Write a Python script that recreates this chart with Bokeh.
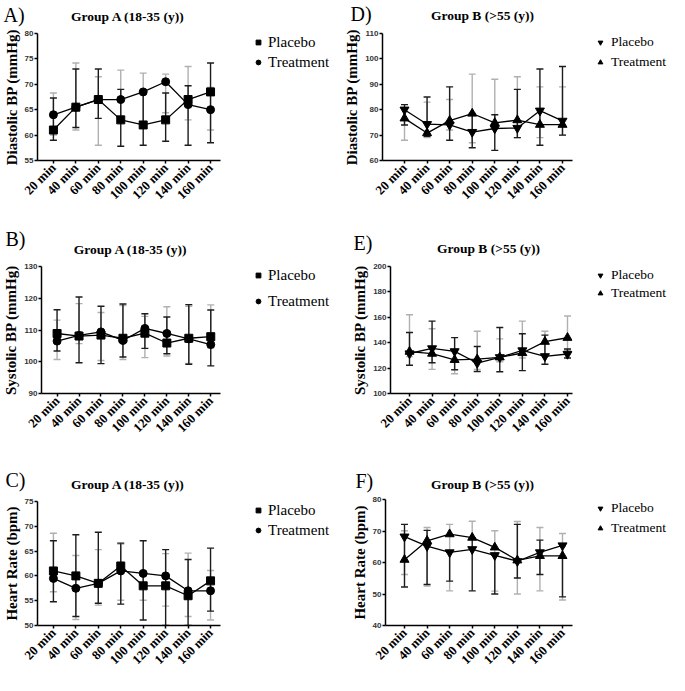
import math
from bokeh.plotting import figure
from bokeh.models import (ColumnDataSource, Range1d, FixedTicker, Label, Legend,
                          LegendItem, Whisker, TeeHead)
from bokeh.layouts import column, row
from bokeh.embed import file_html
from bokeh.resources import INLINE

# ---------------- data ----------------
times = ["20 min", "40 min", "60 min", "80 min", "100 min", "120 min", "140 min", "160 min"]
series_names = ["Placebo", "Treatment"]

# A) Diastolic BP, Group A (18-35 y)
a_placebo = [61.0, 65.5, 67.0, 63.0, 62.0, 63.0, 67.0, 68.5]
a_treatment = [64.0, 65.5, 67.0, 67.0, 68.5, 70.5, 66.0, 65.0]
a_placebo_lo = [59.0, 61.5, 63.3, 57.8, 58.0, 58.8, 58.0, 58.5]
a_placebo_hi = [67.3, 73.0, 73.0, 69.0, 68.5, 68.3, 69.7, 74.2]
a_treatment_lo = [60.0, 61.0, 58.0, 63.0, 62.0, 64.4, 63.0, 61.0]
a_treatment_hi = [68.3, 74.2, 71.5, 72.8, 72.2, 72.0, 73.5, 69.4]

# B) Systolic BP, Group A (18-35 y)
b_placebo = [108.9, 108.1, 108.4, 107.4, 109.0, 105.9, 107.4, 107.9]
b_treatment = [106.5, 108.3, 109.4, 106.7, 110.5, 108.9, 107.2, 105.4]
b_placebo_lo = [103.4, 99.7, 99.4, 101.5, 104.2, 102.5, 99.2, 98.7]
b_placebo_hi = [116.4, 120.4, 117.5, 118.2, 115.1, 114.1, 118.0, 116.3]
b_treatment_lo = [100.7, 105.7, 100.4, 100.7, 101.3, 101.8, 99.5, 104.4]
b_treatment_hi = [113.1, 118.3, 115.5, 117.7, 114.3, 117.3, 117.5, 117.9]

# C) Heart rate, Group A (18-35 y)
c_placebo = [61.0, 60.0, 58.5, 62.0, 58.0, 58.0, 56.0, 59.0]
c_treatment = [59.5, 57.5, 58.5, 61.0, 60.5, 60.0, 57.0, 57.0]
c_placebo_lo = [54.8, 51.8, 54.5, 54.3, 51.1, 50.0, 50.0, 52.9]
c_placebo_hi = [67.1, 68.3, 68.8, 66.6, 67.1, 65.3, 63.3, 65.6]
c_treatment_lo = [56.8, 51.2, 54.1, 55.1, 55.1, 53.9, 51.8, 51.1]
c_treatment_hi = [68.6, 64.1, 65.3, 66.4, 60.5, 64.5, 64.6, 61.1]

# D) Diastolic BP, Group B (>55 y)
d_placebo = [80.0, 74.3, 74.0, 71.2, 72.6, 72.8, 79.6, 75.6]
d_treatment = [76.6, 70.8, 75.7, 78.5, 74.8, 75.9, 74.1, 74.1]
d_placebo_lo = [74.0, 69.5, 68.0, 65.0, 64.0, 69.0, 66.0, 70.0]
d_placebo_hi = [82.0, 85.0, 89.0, 78.5, 78.0, 88.0, 96.0, 97.0]
d_treatment_lo = [68.0, 69.0, 72.0, 67.0, 72.6, 69.0, 69.0, 70.0]
d_treatment_hi = [80.8, 83.0, 84.0, 94.0, 92.0, 93.0, 89.0, 89.0]

# E) Systolic BP, Group B (>55 y)
e_placebo = [131.5, 135.5, 133.2, 124.0, 128.5, 133.9, 129.3, 131.1]
e_treatment = [133.0, 131.4, 126.5, 127.0, 128.5, 131.9, 140.8, 143.9]
e_placebo_lo = [122.2, 124.2, 118.7, 117.3, 117.1, 118.0, 123.0, 128.0]
e_placebo_hi = [148.0, 157.0, 144.0, 137.0, 152.0, 147.0, 146.0, 135.0]
e_treatment_lo = [129.0, 119.0, 115.6, 119.0, 125.0, 128.0, 130.0, 134.0]
e_treatment_hi = [162.0, 151.0, 133.2, 149.0, 143.0, 157.0, 149.0, 161.0]

# F) Heart rate, Group B (>55 y)
f_placebo = [68.2, 65.2, 63.2, 64.2, 62.3, 60.4, 63.2, 65.4]
f_treatment = [60.9, 66.9, 69.0, 67.9, 64.8, 60.7, 62.1, 62.1]
f_placebo_lo = [52.2, 53.0, 54.1, 51.0, 50.0, 55.1, 56.2, 49.1]
f_placebo_hi = [72.1, 70.2, 63.2, 67.9, 62.3, 72.1, 67.1, 65.4]
f_treatment_lo = [56.2, 52.5, 51.0, 67.9, 50.9, 50.0, 51.0, 48.1]
f_treatment_hi = [70.1, 71.1, 72.1, 73.1, 70.1, 73.0, 71.1, 69.2]

# ---------------- styling / layout ----------------
SERIF = "Liberation Serif"
SANS = "Liberation Sans"
DARK = "#1c1c1c"
LIGHT = "#b0b0b0"
SP = 22.57  # px per time point


def blank_fig(w, h, xr=(0, 1), yr=(0, 1), bl=0, bt=0):
    p = figure(width=w, height=h, x_range=Range1d(*xr), y_range=Range1d(*yr),
               min_border=0, min_border_left=max(0, bl), min_border_top=max(0, bt),
               x_axis_type=None, y_axis_type=None,
               toolbar_location=None, output_backend="svg", title=None)
    p.outline_line_color = None
    p.grid.visible = False
    p.background_fill_color = "white"
    p.border_fill_color = "white"
    return p


def make_header(rect, letter, letter_xy, title, title_xy):
    fx, fy, fw, fh = rect
    p = blank_fig(fw, fh, (0, fw), (0, fh))
    p.add_layout(Label(x=letter_xy[0] - fx, y=fh - (letter_xy[1] - fy), text=letter,
                       text_font=SERIF, text_font_size="20px", text_color="black",
                       text_align="left", text_baseline="middle"))
    p.add_layout(Label(x=title_xy[0] - fx, y=fh - (title_xy[1] - fy), text=title,
                       text_font=SERIF, text_font_style="bold", text_font_size="13.5px",
                       text_color="black", text_align="center", text_baseline="middle"))
    return p


def make_panel(col_x, col_w, top_y, height, frame, tick1, ylabel, ymin, ymax, ystep,
               placebo, treatment, pl_lo, pl_hi, tr_lo, tr_hi,
               mk_pl, mk_tr, legend_xy, legend_gap, legend_fs, legend_standoff):
    L, R, T, B = frame
    x_start = 1 - (tick1 - L) / SP
    x_end = x_start + (R - L) / SP
    main_w = R + 3 - col_x
    p = figure(width=main_w, height=height, x_range=Range1d(x_start, x_end),
               y_range=Range1d(ymin, ymax), output_backend="svg",
               toolbar_location=None, title=None,
               min_border_left=L - col_x, min_border_right=3,
               min_border_top=T - top_y, min_border_bottom=top_y + height - B)
    p.outline_line_color = None
    p.xgrid.visible = False
    p.ygrid.visible = False
    p.background_fill_color = "white"
    p.border_fill_color = "white"

    xs = list(range(1, len(times) + 1))

    for ax in (p.xaxis[0], p.yaxis[0]):
        ax.axis_line_color = "black"
        ax.axis_line_width = 1.5
        ax.major_tick_line_color = "black"
        ax.major_tick_line_width = 1.5
        ax.major_tick_in = 0
        ax.major_tick_out = 3
        ax.minor_tick_line_color = None
    p.xaxis.ticker = FixedTicker(ticks=xs)
    p.xaxis.major_label_overrides = {x: t for x, t in zip(xs, times)}
    p.xaxis.major_label_orientation = math.pi / 4
    p.xaxis.major_label_text_font = SERIF
    p.xaxis.major_label_text_font_style = "bold"
    p.xaxis.major_label_text_font_size = "13px"
    p.xaxis.major_label_text_color = "black"
    p.xaxis.major_label_standoff = 2
    yt = []
    v = ymin
    while v <= ymax + 1e-9:
        yt.append(v)
        v += ystep
    p.yaxis.ticker = FixedTicker(ticks=yt)
    p.yaxis.major_label_text_font = SANS
    p.yaxis.major_label_text_font_style = "bold"
    p.yaxis.major_label_text_font_size = "8px"
    p.yaxis.major_label_text_color = "#333333"
    p.yaxis.major_label_standoff = 1
    p.yaxis.axis_label = ylabel
    p.yaxis.axis_label_text_font = SERIF
    p.yaxis.axis_label_text_font_style = "bold"
    p.yaxis.axis_label_text_font_size = "15px"
    p.yaxis.axis_label_text_color = "black"
    p.yaxis.axis_label_standoff = 2

    src_tr = ColumnDataSource(dict(x=xs, y=treatment, lo=tr_lo, hi=tr_hi))
    src_pl = ColumnDataSource(dict(x=xs, y=placebo, lo=pl_lo, hi=pl_hi))
    for src, col in ((src_tr, LIGHT), (src_pl, DARK)):
        w = Whisker(base="x", lower="lo", upper="hi", source=src,
                    line_color=col, line_width=1.4, level="underlay",
                    upper_head=TeeHead(size=7, line_color=col, line_width=1.4),
                    lower_head=TeeHead(size=7, line_color=col, line_width=1.4))
        p.add_layout(w)

    p.line("x", "y", source=src_pl, line_color="black", line_width=1.3)
    p.line("x", "y", source=src_tr, line_color="black", line_width=1.3)
    sz_pl = 8 if mk_pl == "square" else 9
    sz_tr = 8 if mk_tr == "circle" else 9
    p.scatter("x", "y", source=src_pl, marker=mk_pl, size=sz_pl,
              fill_color="black", line_color="black")
    p.scatter("x", "y", source=src_tr, marker=mk_tr, size=sz_tr,
              fill_color="black", line_color="black")

    # legend strip to the right of the plot (same series, markers only)
    strip_x = col_x + main_w
    strip_w = col_x + col_w - strip_x
    H = 18
    spacing = legend_gap - H
    mx, my = legend_xy
    left = mx - 6
    top = my - H / 2 - 2
    lg = blank_fig(strip_w, height, (-100, -90), (ymin, ymax),
                   bl=int(round(left - strip_x)), bt=int(round(top - top_y)))
    l_pl = lg.scatter(xs, placebo, marker=mk_pl, size=sz_pl, fill_color="black", line_color="black")
    l_tr = lg.scatter(xs, treatment, marker=mk_tr, size=sz_tr, fill_color="black", line_color="black")
    leg = Legend(items=[LegendItem(label=series_names[0], renderers=[l_pl]),
                        LegendItem(label=series_names[1], renderers=[l_tr])],
                 location="top_left", orientation="vertical",
                 padding=0, spacing=spacing, margin=0, glyph_width=12,
                 glyph_height=H, label_height=H, label_standoff=legend_standoff,
                 label_text_font=SERIF, label_text_font_size=legend_fs,
                 label_text_color="black", label_text_baseline="middle",
                 border_line_color=None, background_fill_alpha=0)
    lg.add_layout(leg)
    return row(p, lg)


# layout coordinates: left column x 0..340, right column x 340..669
hA = make_header((0, 0, 340, 29), "A)", (3, 14), "Group A   (18-35 (y))", (131, 16))
hD = make_header((340, 0, 329, 29), "D)", (350, 13), "Group B (>55 (y))", (482, 15))
hB = make_header((0, 210, 340, 48), "B)", (5, 238), "Group A  (18-35 (y))", (132, 249))
hE = make_header((340, 210, 329, 48), "E)", (353, 242), "Group B (>55 (y))", (488, 248))
hC = make_header((0, 443, 340, 50), "C)", (5, 479), "Group A   (18-35 (y))", (131, 484))
hF = make_header((340, 443, 329, 50), "F)", (355, 480), "Group B (>55 (y))", (482, 484))

pA = make_panel(0, 340, 29, 181, (36, 220, 33, 163), 52, "Diastolic BP (mmHg)", 55, 80, 5,
                a_placebo, a_treatment, a_placebo_lo, a_placebo_hi, a_treatment_lo, a_treatment_hi,
                "square", "circle", (258, 43), 20, "15px", 4)
pD = make_panel(340, 329, 29, 181, (382, 572, 33, 163), 404, "Diastolic BP (mmHg)", 60, 110, 10,
                d_placebo, d_treatment, d_placebo_lo, d_placebo_hi, d_treatment_lo, d_treatment_hi,
                "inverted_triangle", "triangle", (600, 41), 20, "13.5px", 5)
pB = make_panel(0, 340, 258, 185, (36, 220, 266, 396), 52, "Systolic BP (mmHg)", 90, 130, 10,
                b_placebo, b_treatment, b_placebo_lo, b_placebo_hi, b_treatment_lo, b_treatment_hi,
                "square", "circle", (258, 270), 26, "15px", 4)
pE = make_panel(340, 329, 258, 185, (390, 572, 266, 396), 409, "Systolic BP (mmHg)", 100, 200, 20,
                e_placebo, e_treatment, e_placebo_lo, e_placebo_hi, e_treatment_lo, e_treatment_hi,
                "inverted_triangle", "triangle", (600, 268), 18, "13.5px", 5)
pC = make_panel(0, 340, 493, 182, (36, 220, 497, 628), 52, "Heart Rate (bpm)", 50, 75, 5,
                c_placebo, c_treatment, c_placebo_lo, c_placebo_hi, c_treatment_lo, c_treatment_hi,
                "square", "circle", (258, 512), 20, "15px", 4)
pF = make_panel(340, 329, 493, 182, (385, 572, 497, 628), 404, "Heart Rate (bpm)", 40, 80, 10,
                f_placebo, f_treatment, f_placebo_lo, f_placebo_hi, f_treatment_lo, f_treatment_hi,
                "inverted_triangle", "triangle", (600, 510), 20, "13.5px", 5)

layout = column(row(hA, hD), row(pA, pD), row(hB, hE), row(pB, pE),
                row(hC, hF), row(pC, pF))
open("out.html", "w").write(file_html(layout, INLINE))
